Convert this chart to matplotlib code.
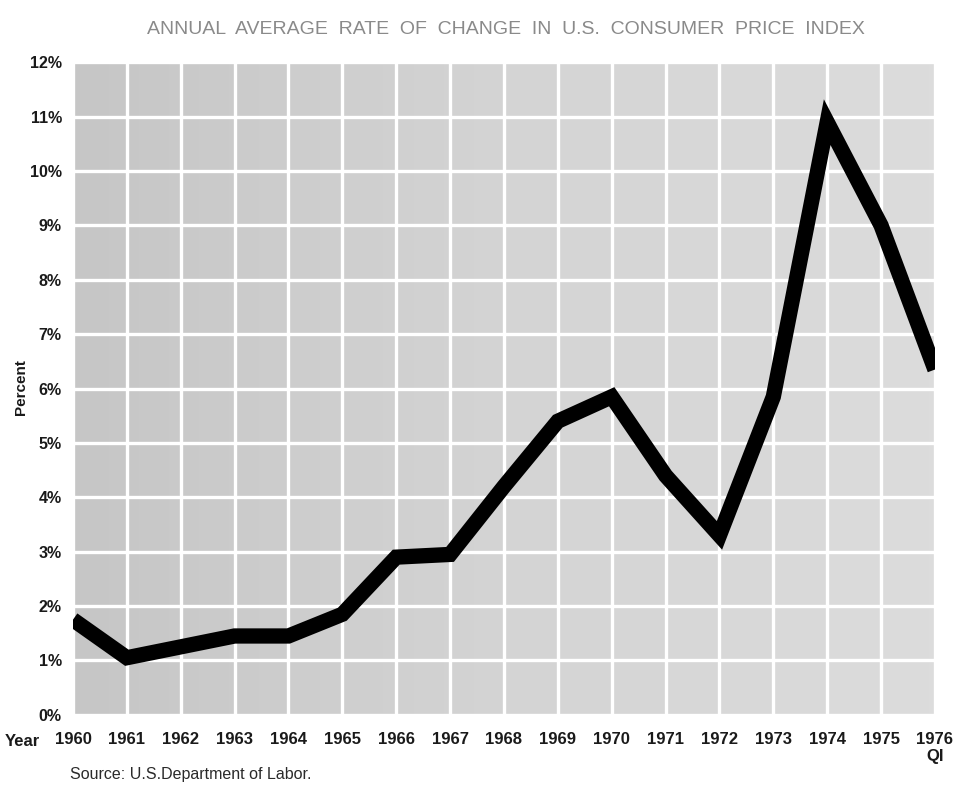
import matplotlib.pyplot as plt
import numpy as np
from matplotlib.colors import LinearSegmentedColormap

years = [1960, 1961, 1962, 1963, 1964, 1965, 1966, 1967, 1968,
         1969, 1970, 1971, 1972, 1973, 1974, 1975, 1976]
cpi_change = [1.75, 1.05, 1.25, 1.45, 1.45, 1.85, 2.9, 2.95, 4.2,
              5.4, 5.85, 4.4, 3.3, 5.85, 10.9, 9.0, 6.35]
year_labels = ['1960', '1961', '1962', '1963', '1964', '1965', '1966', '1967', '1968',
               '1969', '1970', '1971', '1972', '1973', '1974', '1975', '1976\nQI']
pct_ticks = list(range(0, 13))

plt.rcParams['font.family'] = ['Liberation Sans', 'DejaVu Sans']

fig = plt.figure(figsize=(9.55, 7.89), dpi=100)
ax = fig.add_axes([0.0764, 0.094, 0.9026, 0.827])

# greyish paper background, a bit lighter towards the right
paper = LinearSegmentedColormap.from_list('paper', ['#c6c6c6', '#d4d4d4', '#dcdcdc'])
grad = np.linspace(0.0, 1.0, 200)[None, :]
ax.imshow(grad, extent=[1960, 1976, 0, 12], aspect='auto', cmap=paper,
          zorder=0, interpolation='bilinear')

ax.set_xlim(1960, 1976)
ax.set_ylim(0, 12)
ax.set_xticks(years)
ax.set_yticks(pct_ticks)
ax.set_xticklabels(year_labels, fontsize=12, fontweight='bold', color='#1a1a1a')
ax.set_yticklabels([f'{p}%' for p in pct_ticks], fontsize=11.5, fontweight='bold', color='#1a1a1a')
ax.tick_params(axis='x', length=0, pad=12)
ax.tick_params(axis='y', length=0, pad=8)
ax.grid(True, color='white', linewidth=2.4, zorder=1)
for s in ax.spines.values():
    s.set_visible(False)

ax.plot(years, cpi_change, color='black', linewidth=11, solid_joinstyle='miter',
        solid_capstyle='butt', zorder=3)

fig.text(0.530, 0.963, 'ANNUAL  AVERAGE  RATE  OF  CHANGE  IN  U.S.  CONSUMER  PRICE  INDEX',
         ha='center', va='center', fontsize=14, color='#8a8a8a')
fig.text(0.005, 0.060, 'Year', ha='left', va='center', fontsize=12, fontweight='bold', color='#1a1a1a')
fig.text(0.022, 0.51, 'Percent', rotation=90, ha='center', va='center', fontsize=11,
         fontweight='bold', color='#1a1a1a')
fig.text(0.073, 0.018, 'Source: U.S.Department of Labor.', ha='left', va='center',
         fontsize=11.5, color='#2a2a2a')

fig.savefig('out.png', dpi=100)
